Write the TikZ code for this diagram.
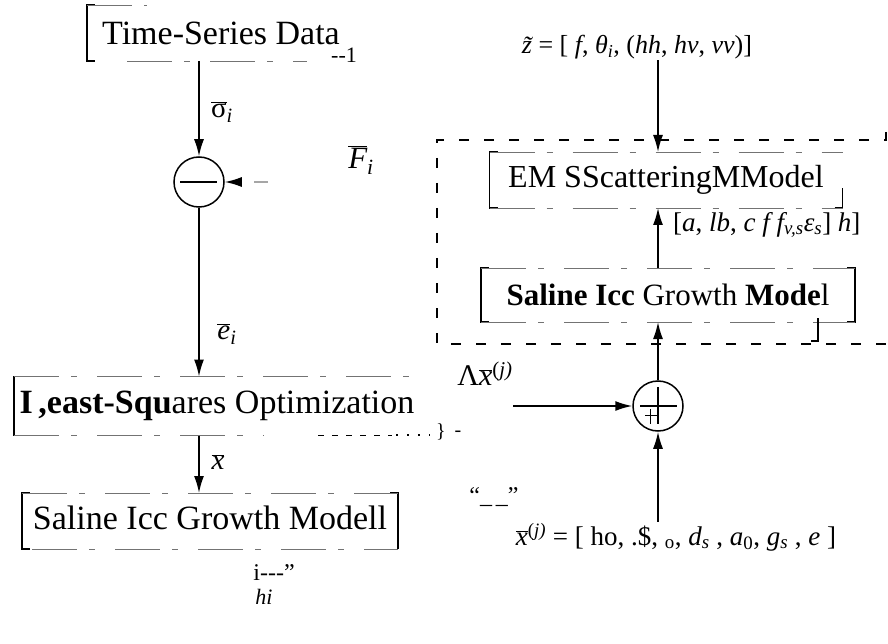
\documentclass[tikz,border=0pt]{standalone}
\usepackage{fontspec}
\setmainfont{Liberation Serif}
\usetikzlibrary{arrows.meta}
\newcommand\ovl[1]{$\overline{\hbox{#1}}$}
\newcommand\sbi[1]{\textsubscript{\itshape #1}}
\begin{document}
\begin{tikzpicture}[x=1pt,y=-1pt]
\tikzset{
  boxtext/.style={font=\fontsize{34}{36}\selectfont, inner sep=0pt, outer sep=0pt},
  lbl/.style={font=\fontsize{29}{31}\selectfont, inner sep=1pt},
  arr/.style={-{Latex[length=17pt,width=10pt]}, line width=1.6pt},
  sumnode/.style={circle, draw, line width=1.5pt, minimum size=50pt, inner sep=0pt},
  vedge/.style={line width=1.4pt},
  hedge/.style={line width=0.9pt, black!55, dash pattern=on 45pt off 12pt on 6pt off 20pt},
  bigdash/.style={line width=1.6pt, dash pattern=on 10pt off 15pt},
}
\useasboundingbox (0,0) rectangle (888,644);

% ---------------- left column ----------------
\node[boxtext, minimum width=268pt, minimum height=56pt] (ts) at (221,33) {Time-Series Data};
\node[font=\fontsize{22}{22}\selectfont, inner sep=0pt] (tssub) at (344,55) {-{}-1};
\draw[vedge] (ts.north west) ++(8,0) -- (ts.north west) -- (ts.south west) -- ++(8,0);
\draw[hedge] (ts.north west) -- ++(60,0);
\draw[hedge] (ts.south west) ++(40,0) -- ++(180,0);

\node[sumnode] (minus) at (199,182) {};
\draw[line width=2pt] (minus.center) ++(-19,0) -- ++(37,0);
\draw[arr] (ts.south -| minus) -- (minus.north);
\node[lbl] (sig) at (222,112) {\ovl{σ}\sbi{i}};

\coordinate (fin) at (268,182);
\draw[-{Latex[length=17pt,width=10pt,color=black]}, line width=1.6pt, black!35, dash pattern=on 14pt off 40pt] (fin) -- (minus.east);
\node[lbl, font=\fontsize{31}{33}\selectfont] (F) at (361,160) {\ovl{\itshape F}\sbi{i}};

\node[boxtext, minimum width=406pt, minimum height=59pt] (ls) at (217,406) {\textbf{I\,,east-Squ}ares Optimization};
\draw[vedge] (ls.north west) ++(8,0) -- (ls.north west) -- (ls.south west) -- ++(12,0);
\draw[hedge] (ls.north west) -- (ls.north east);
\draw[hedge] (ls.south west) -- ++(250,0);
\draw[line width=0.9pt, dash pattern=on 6pt off 8pt] (318,435) -- (392,435);
\draw[line width=1.2pt, dash pattern=on 2pt off 9pt] (396,435) -- (430,435);
\node[font=\fontsize{20}{20}\selectfont, inner sep=0pt] (brace) at (441,432) {\}};
\node[font=\fontsize{20}{20}\selectfont, inner sep=0pt] (dashr) at (458,434) {-};

\draw[arr] (minus.south) -- (minus.south |- ls.north);
\node[lbl] (e) at (227,334) {\ovl{\itshape e}\sbi{i}};

\node[boxtext, minimum width=376pt, minimum height=56pt] (sl) at (210,521) {\raisebox{6pt}{Saline Icc Growth Modell}};
\draw[vedge] (sl.north west) ++(8,0) -- (sl.north west) -- (sl.south west) -- ++(8,0);
\draw[vedge] (sl.north east) ++(-8,0) -- (sl.north east) -- (sl.south east);
\draw[hedge] (sl.north west) -- (sl.north east);
\draw[hedge] (sl.south west) ++(10,0) -- (sl.south east);

\draw[arr] (ls.south -| minus) -- (sl.north -| minus);
\node[lbl] (xb) at (218,462) {\ovl{\itshape x}};

\node[font=\fontsize{24}{24}\selectfont, inner sep=0pt] (ilbl) at (274,573) {i-{}-{}-''};
\node[font=\fontsize{22}{22}\selectfont\itshape, inner sep=0pt] (hi) at (264,597) {hi};
\node[font=\fontsize{24}{24}\selectfont, inner sep=0pt] (quote) at (494,497) {``\_\,\_''};

% ---------------- right column ----------------
\node[lbl, font=\fontsize{26}{28}\selectfont] (zl) at (637,47) {{\itshape\~z} = [ {\itshape f}, {\itshape θ}\sbi{i}, ({\itshape hh}, {\itshape hv}, {\itshape vv})]};

\draw[bigdash] (886,132) -- (886,140) -- (437,140) -- (437,344) -- (888,344);

\node[boxtext, font=\fontsize{32}{34}\selectfont, minimum width=353pt, minimum height=56pt] (em) at (666,180) {EM SScatteringMModel};
\draw[vedge] (em.north west) ++(8,0) -- (em.north west) -- (em.south west) -- ++(8,0);
\draw[vedge] (em.south east) ++(-8,0) -- (em.south east) -- ++(0,-20);
\draw[hedge] (em.north west) -- (em.north east);
\draw[hedge] (em.south west) -- (em.south east);

\node[boxtext, font=\fontsize{31}{34}\selectfont, minimum width=374pt, minimum height=54pt] (sr) at (668,295) {\textbf{Saline} \textbf{Icc} Growth \textbf{Mode}l};
\draw[vedge] (sr.north west) ++(8,0) -- (sr.north west) -- (sr.south west) -- ++(8,0);
\draw[vedge] (sr.north east) ++(-8,0) -- (sr.north east) -- (sr.south east) -- ++(-8,0);
\draw[hedge] (sr.north west) -- (sr.north east);
\draw[hedge] (sr.south west) -- (sr.south east);
\draw[line width=1.2pt] (811,341) -- (818,341) -- (818,318);

\node[lbl, anchor=west, font=\fontsize{27}{29}\selectfont] (al) at (672,225) {[{\itshape a}, {\itshape lb}, {\itshape c f f}\sbi{v,s}{\itshape ε}\sbi{s}] {\itshape h}]};

\node[sumnode] (plus) at (658,406) {};
\draw[line width=2pt] (plus.center) ++(-18,0) -- ++(37,0);
\draw[line width=2.4pt] (plus.center) ++(0,-19) -- ++(0,37);
\draw[line width=1pt] (plus.center) ++(-13,9) -- ++(14,0);
\draw[line width=1pt] (plus.center) ++(-8,3) -- ++(0,15);

\draw[arr] (zl.south -| plus) -- (em.north -| plus);
\draw[arr] (sr.north -| plus) -- (em.south -| plus);
\draw[arr] (plus.north) -- (sr.south -| plus);

\coordinate (dxin) at (513,406);
\draw[arr] (dxin) -- (plus.west);
\node[lbl, font=\fontsize{30}{32}\selectfont] (dx) at (485,374) {Λ\ovl{\itshape x}\textsuperscript{(\itshape j\/)}};

\node[lbl, font=\fontsize{27}{29}\selectfont] (xj) at (676,537) {\ovl{\itshape x}\textsuperscript{(\itshape j\/)} = [ ho, .\$, \textsubscript{o}, {\itshape d}\sbi{s} , {\itshape a}\textsubscript{0}, {\itshape g}\sbi{s} , {\itshape e} ]};
\draw[arr] (xj.north -| plus) -- (plus.south);
\end{tikzpicture}
\end{document}
